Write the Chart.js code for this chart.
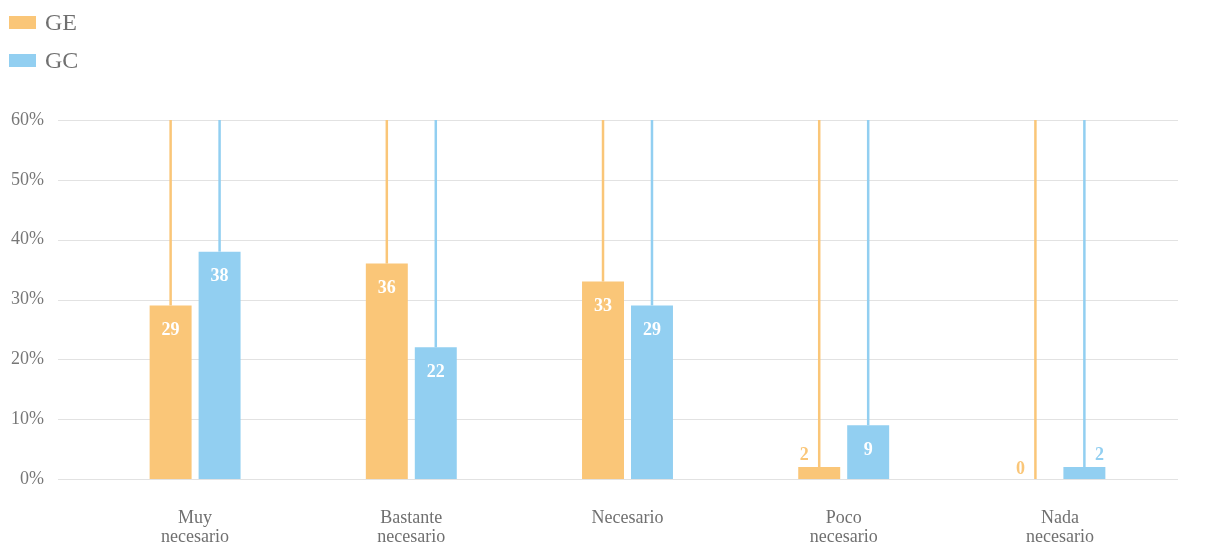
<!DOCTYPE html>
<html>
<head>
<meta charset="utf-8">
<script src="https://cdn.jsdelivr.net/npm/chart.js@4"></script>
<style>
  body { margin: 0; background: #fff; }
  #wrap { position: relative; width: 1206px; height: 550px; }
  #legend { position: absolute; left: 9px; top: 3px; font-family: "Liberation Serif", serif; font-size: 24px; color: #707070; }
  .item { display: flex; align-items: center; height: 38px; }
  .box { width: 27px; height: 13px; margin-right: 9px; }
</style>
</head>
<body>
<div id="wrap">
  <canvas id="chart" width="1206" height="550"></canvas>
  <div id="legend"></div>
</div>
<script>
const categories = [['Muy', 'necesario'], ['Bastante', 'necesario'], 'Necesario', ['Poco', 'necesario'], ['Nada', 'necesario']];
const geValues = [29, 36, 33, 2, 0];
const gcValues = [38, 22, 29, 9, 2];
const yMax = 60;
const yStep = 10;

const orange = '#fac678';
const blue = '#92cff1';
const serif = '"Liberation Serif", "Times New Roman", serif';

// thin line from the top of the plot down to each bar
const stems = {
    id: 'stems',
    beforeDatasetsDraw(chart) {
        const ctx = chart.ctx;
        const top = chart.chartArea.top;
        ctx.save();
        chart.data.datasets.forEach((ds, i) => {
            chart.getDatasetMeta(i).data.forEach(bar => {
                ctx.strokeStyle = ds.backgroundColor;
                ctx.lineWidth = 2.5;
                ctx.beginPath();
                ctx.moveTo(bar.x, top);
                ctx.lineTo(bar.x, bar.y);
                ctx.stroke();
            });
        });
        ctx.restore();
    }
};

// horizontal grid, a bit wider than the bar area
const grid = {
    id: 'grid',
    beforeDatasetsDraw(chart) {
        const ctx = chart.ctx;
        const y = chart.scales.y;
        const area = chart.chartArea;
        ctx.save();
        ctx.strokeStyle = '#e2e2e2';
        ctx.lineWidth = 1;
        y.ticks.forEach(t => {
            const py = Math.round(y.getPixelForValue(t.value)) + 0.5;
            ctx.beginPath();
            ctx.moveTo(area.left - 29, py);
            ctx.lineTo(area.right + 10, py);
            ctx.stroke();
        });
        ctx.restore();
    }
};

const valueLabels = {
    id: 'valueLabels',
    afterDatasetsDraw(chart) {
        const ctx = chart.ctx;
        ctx.save();
        ctx.font = 'bold 18px ' + serif;
        ctx.textAlign = 'center';
        ctx.textBaseline = 'middle';
        chart.data.datasets.forEach((ds, i) => {
            chart.getDatasetMeta(i).data.forEach((bar, j) => {
                const v = ds.data[j];
                if (v >= 5) {
                    ctx.fillStyle = '#fff';
                    ctx.fillText(v, bar.x, bar.y + 25);
                } else {
                    ctx.fillStyle = ds.backgroundColor;
                    const dx = i === 0 ? -15 : 15;
                    ctx.fillText(v, bar.x + dx, bar.y - (v > 0 ? 12 : 10));
                }
            });
        });
        ctx.restore();
    }
};

const chart = new Chart(document.getElementById('chart'), {
    type: 'bar',
    data: {
        labels: categories,
        datasets: [
            { label: 'GE', data: geValues, backgroundColor: orange },
            { label: 'GC', data: gcValues, backgroundColor: blue }
        ]
    },
    options: {
        responsive: false,
        animation: false,
        categoryPercentage: 0.453,
        barPercentage: 0.857,
        layout: { padding: { top: 120, right: 38, left: 0, bottom: 0 } },
        plugins: {
            legend: { display: false },
            tooltip: { enabled: false }
        },
        scales: {
            x: {
                grid: { display: false },
                border: { display: false },
                ticks: { color: '#707070', font: { family: serif, size: 18, lineHeight: 1.1 }, padding: 21 },
                afterFit(scale) { scale.height = 71; }
            },
            y: {
                min: 0,
                max: yMax,
                grid: { display: false },
                border: { display: false },
                ticks: {
                    stepSize: yStep,
                    color: '#777',
                    padding: 35,
                    font: { family: serif, size: 18 },
                    callback: v => v + '%'
                },
                afterFit(scale) { scale.width = 87; }
            }
        }
    },
    plugins: [grid, stems, valueLabels]
});

// legend built from the datasets
const legend = document.getElementById('legend');
chart.data.datasets.forEach(ds => {
    const item = document.createElement('div');
    item.className = 'item';
    item.innerHTML = '<span class="box" style="background:' + ds.backgroundColor + '"></span>' + ds.label;
    legend.appendChild(item);
});
</script>
</body>
</html>
